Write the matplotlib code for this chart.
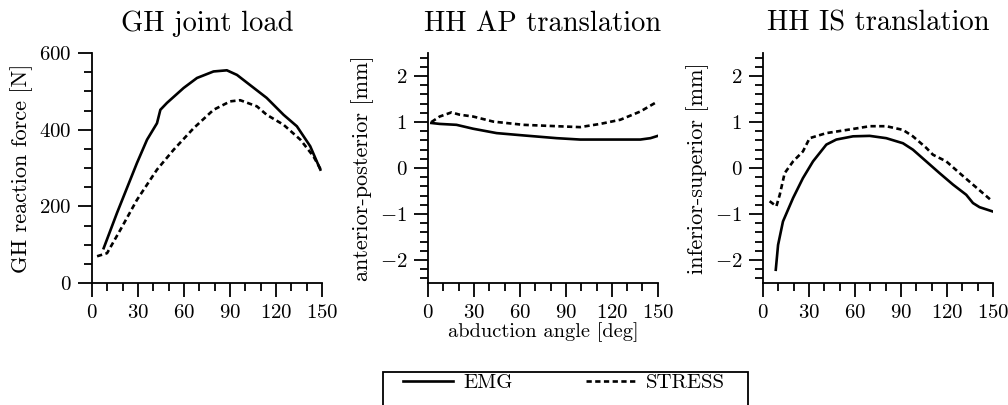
import numpy as np
import matplotlib
matplotlib.use('Agg')
import matplotlib.pyplot as plt
from matplotlib.ticker import MultipleLocator
from matplotlib.patches import Rectangle

plt.rcParams['font.family'] = 'serif'
plt.rcParams['font.serif'] = ['cmr10']
plt.rcParams['mathtext.fontset'] = 'cm'
plt.rcParams['axes.formatter.use_mathtext'] = True

# GH joint load [N]
load_emg_x = [7.6, 16.3, 29.3, 35.9, 42.4, 44.6, 48.9, 59.8, 68.5, 79.3, 88, 94.6, 103, 114, 125, 133.7, 142.4, 149]
load_emg_y = [91, 183, 313, 374, 417, 452, 470, 509, 535, 552, 555, 543, 517, 483, 439, 409, 357, 296]
load_str_x = [3.3, 9.8, 18.5, 29.3, 42.4, 53.3, 66.3, 79.3, 90.2, 96.7, 107.6, 114, 125, 136, 144.6, 150]
load_str_y = [70, 78, 139, 217, 296, 348, 404, 452, 474, 477, 461, 439, 413, 374, 330, 291]

# HH AP translation [mm]
ap_emg_x = [2.2, 7.6, 18.6, 29.5, 44.8, 62.2, 84, 99.3, 116.8, 138.6, 145.2, 150]
ap_emg_y = [0.98, 0.96, 0.94, 0.855, 0.76, 0.71, 0.65, 0.62, 0.62, 0.62, 0.65, 0.70]
ap_str_x = [2.2, 7.6, 15.3, 20.7, 29.5, 42.6, 62.2, 84, 99.3, 112.4, 125.5, 138.6, 150]
ap_str_y = [1.0, 1.12, 1.21, 1.16, 1.12, 1.01, 0.94, 0.91, 0.89, 0.96, 1.05, 1.23, 1.45]

# HH IS translation [mm]
is_emg_x = [8.3, 9.8, 13, 19.6, 26, 32.6, 41.3, 47.8, 58.7, 69.6, 80.4, 91.3, 97.8, 106.5, 115.2, 124, 132.6, 137, 141.3, 149.6]
is_emg_y = [-2.21, -1.67, -1.16, -0.65, -0.22, 0.145, 0.51, 0.62, 0.69, 0.70, 0.65, 0.54, 0.40, 0.145, -0.11, -0.36, -0.58, -0.76, -0.85, -0.94]
is_str_x = [4.3, 8.7, 10.9, 14.1, 19.6, 26, 30.4, 41.3, 58.7, 69.6, 80.4, 91.3, 97.8, 106.5, 110.9, 119.6, 128.3, 137, 149.6]
is_str_y = [-0.72, -0.83, -0.58, -0.11, 0.145, 0.36, 0.65, 0.76, 0.85, 0.91, 0.91, 0.83, 0.69, 0.44, 0.29, 0.145, -0.11, -0.36, -0.72]

titles = ['GH joint load', 'HH AP translation', 'HH IS translation']
ylabels = ['GH reaction force [N]', 'anterior-posterior [mm]', 'inferior-superior [mm]']

fig = plt.figure(figsize=(10.08, 4.05), dpi=100)
lefts = [0.0913, 0.4246, 0.757]
axes = [fig.add_axes([l, 0.301, 0.228, 0.568]) for l in lefts]

data = [(load_emg_x, load_emg_y, load_str_x, load_str_y),
        (ap_emg_x, ap_emg_y, ap_str_x, ap_str_y),
        (is_emg_x, is_emg_y, is_str_x, is_str_y)]

for i, ax in enumerate(axes):
    ex, ey, sx, sy = data[i]
    l1, = ax.plot(ex, ey, color='black', lw=1.9, label='EMG')
    l2, = ax.plot(sx, sy, color='black', lw=1.9, ls=(0, (2.0, 1.3)), label='STRESS')
    ax.set_xlim(0, 150)
    ax.set_xticks([0, 30, 60, 90, 120, 150])
    ax.xaxis.set_minor_locator(MultipleLocator(10))
    if i == 0:
        ax.set_ylim(0, 600)
        ax.set_yticks([0, 200, 400, 600])
        ax.yaxis.set_minor_locator(MultipleLocator(50))
    else:
        ax.set_ylim(-2.5, 2.5)
        ax.set_yticks([-2, -1, 0, 1, 2])
        ax.yaxis.set_minor_locator(MultipleLocator(0.2))
    for s in ['top', 'right']:
        ax.spines[s].set_visible(False)
    for s in ['left', 'bottom']:
        ax.spines[s].set_linewidth(1.3)
    ax.tick_params(which='major', direction='out', length=10, width=1.3, labelsize=15, pad=5)
    ax.tick_params(which='minor', direction='out', length=5.5, width=1.3)
    ax.set_title(titles[i], fontsize=20.5, pad=16)
    ax.set_ylabel(ylabels[i], fontsize=16, labelpad=4)

axes[1].set_xlabel('abduction angle [deg]', fontsize=14.7, labelpad=0)

# legend box runs off the bottom edge, as in the original
fig.patches.append(Rectangle((383 / 1008, -0.1), 365 / 1008, 0.1 + 1 - 372 / 405,
                             transform=fig.transFigure, fill=False, lw=1.3, ec='black'))
fig.legend(handles=[l1, l2], loc='center left', bbox_to_anchor=(403 / 1008, 1 - 383 / 405),
           ncol=2, frameon=False, fontsize=15, handlelength=2.4, handletextpad=0.5,
           columnspacing=3.5, borderpad=0, borderaxespad=0)

fig.savefig('out.png', dpi=100)
